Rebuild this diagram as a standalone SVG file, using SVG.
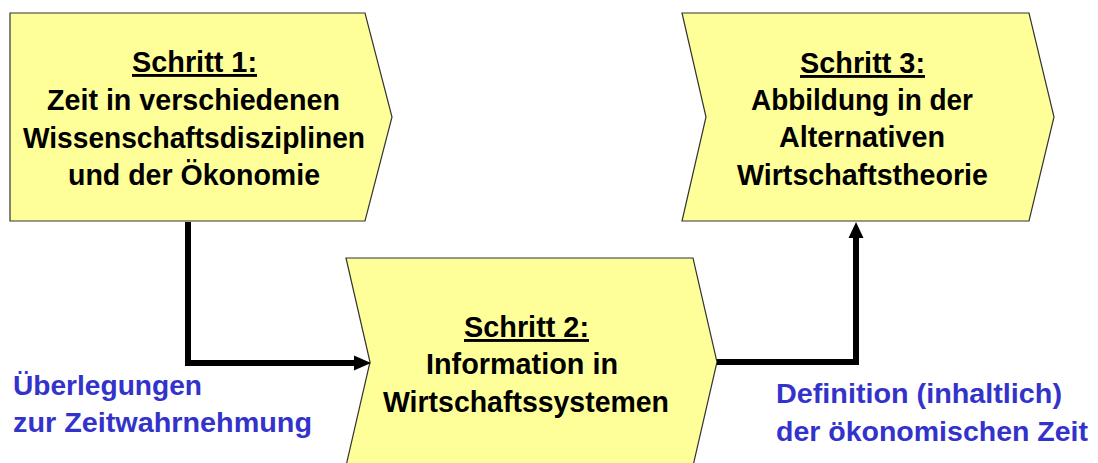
<svg xmlns="http://www.w3.org/2000/svg" width="1098" height="463" viewBox="0 0 1098 463">
<style>
.shape{fill:#FFFF99;stroke:#333333;stroke-width:1.2}
.t{font-family:"Liberation Sans",Arial,sans-serif;font-weight:bold;font-size:29px;fill:#000;text-anchor:middle}
.h{text-decoration:underline}
.lbl{font-family:"Liberation Sans",Arial,sans-serif;font-weight:bold;font-size:28px;fill:#3333CC}
.conn{fill:none;stroke:#000;stroke-width:6;stroke-linejoin:miter}
</style>
<defs>
<marker id="arr" markerWidth="3" markerHeight="3" refX="2.7" refY="1.5" orient="auto" markerUnits="strokeWidth">
<path d="M0,0 L3,1.5 L0,3 Z" fill="#000"/>
</marker>
</defs>
<g id="node1">
<polygon class="shape" points="10,13 365,13 392,117 365,221 10,221"/>
<text class="t h" x="194.5" y="72" textLength="125" lengthAdjust="spacingAndGlyphs">Schritt 1:</text>
<text class="t" x="193.5" y="110" textLength="293" lengthAdjust="spacingAndGlyphs">Zeit in verschiedenen</text>
<text class="t" x="194" y="148" textLength="342" lengthAdjust="spacingAndGlyphs">Wissenschaftsdisziplinen</text>
<text class="t" x="194" y="185" textLength="252" lengthAdjust="spacingAndGlyphs">und der Ökonomie</text>
</g>
<g id="node2">
<polygon class="shape" points="346,258 693,258 717,362 693,466 346,466 370,362"/>
<text class="t h" x="526.5" y="337" textLength="125" lengthAdjust="spacingAndGlyphs">Schritt 2:</text>
<text class="t" x="522" y="374" textLength="192" lengthAdjust="spacingAndGlyphs">Information in</text>
<text class="t" x="526" y="412" textLength="286" lengthAdjust="spacingAndGlyphs">Wirtschaftssystemen</text>
</g>
<g id="node3">
<polygon class="shape" points="682,13 1029,13 1054,117 1029,221 682,221 706,117"/>
<text class="t h" x="862.5" y="73" textLength="125" lengthAdjust="spacingAndGlyphs">Schritt 3:</text>
<text class="t" x="862" y="110" textLength="222" lengthAdjust="spacingAndGlyphs">Abbildung in der</text>
<text class="t" x="862" y="147" textLength="166" lengthAdjust="spacingAndGlyphs">Alternativen</text>
<text class="t" x="862.5" y="185" textLength="251" lengthAdjust="spacingAndGlyphs">Wirtschaftstheorie</text>
</g>
<g id="connectors">
<path class="conn" d="M188,222 L188,363 L354,363"/>
<path d="M354,355.5 L371,363 L354,370.5 Z" fill="#000"/>
<path class="conn" d="M717,362 L856,362 L856,238"/>
<path d="M848.5,238 L856,222 L863.5,238 Z" fill="#000"/>
</g>
<g id="labels">
<text class="lbl" x="13" y="395" textLength="189" lengthAdjust="spacingAndGlyphs">Überlegungen</text>
<text class="lbl" x="13" y="432" textLength="299" lengthAdjust="spacingAndGlyphs">zur Zeitwahrnehmung</text>
<text class="lbl" x="776" y="403" textLength="286" lengthAdjust="spacingAndGlyphs">Definition (inhaltlich)</text>
<text class="lbl" x="776" y="441" textLength="312" lengthAdjust="spacingAndGlyphs">der ökonomischen Zeit</text>
</g>
</svg>
